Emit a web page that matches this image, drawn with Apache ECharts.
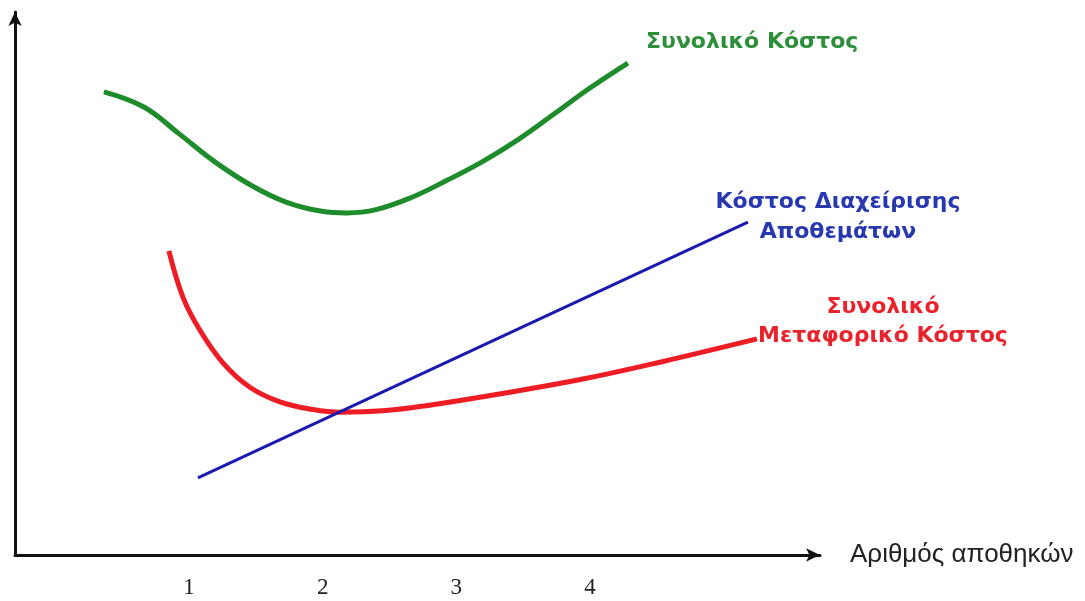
<!DOCTYPE html>
<html><head><meta charset="utf-8">
<script src="https://cdn.jsdelivr.net/npm/echarts@6/dist/echarts.min.js"></script>
<style>html,body{margin:0;padding:0;background:#fff}#c{width:1085px;height:601px}</style>
</head><body><div id="c"></div>
<script>
// x = number of warehouses, y = cost (arbitrary units)
const xTicks = [1, 2, 3, 4];
const totalCostX = [0.364,0.663,0.925,1.194,1.464,1.726,1.995,2.182,2.399,2.660,2.930,3.199,3.468,3.730,3.999,4.283];
const totalCostY = [85.3,82.5,77.6,72.4,68.1,65.0,63.3,63.0,63.6,65.8,69.0,72.5,76.6,81.2,86.0,90.6];
const transportX = [0.850,0.955,1.082,1.254,1.456,1.681,1.927,2.129,2.473,2.773,3.356,3.947,4.538,5.248];
const transportY = [56.0,47.5,41.4,35.4,30.9,28.2,26.8,26.3,26.6,27.5,29.8,32.4,35.6,39.8];
const inventoryX = [1.067, 5.181];
const inventoryY = [14.2, 61.3];
const xName = 'Αριθμός αποθηκών';
const labelTotal = 'Συνολικό Κόστος';
const labelInventory = ['Κόστος Διαχείρισης', 'Αποθεμάτων'];
const labelTransport = ['Συνολικό', 'Μεταφορικό Κόστος'];

const zip = (xs, ys) => xs.map((x, i) => [x, ys[i]]);
const chart = echarts.init(document.getElementById('c'));
const F = '"Liberation Sans", Arial, sans-serif';
const FB = '"DejaVu Sans", Verdana, sans-serif';
chart.setOption({
  animation: false,
  grid: { left: 15, right: 265, top: 12, bottom: 46 },
  xAxis: {
    type: 'value', min: -0.301, max: 5.72,
    axisLine: { onZero: false, lineStyle: { color: '#111', width: 3 }, symbol: ['none', 'arrow'], symbolSize: [10, 14] },
    axisTick: { show: false }, splitLine: { show: false },
    axisLabel: { customValues: xTicks, fontFamily: '"Liberation Serif", serif', fontSize: 23, color: '#222', margin: 21 },
    name: xName, nameLocation: 'end', nameGap: 30,
    nameTextStyle: { fontFamily: F, fontSize: 26, color: '#222', verticalAlign: 'middle' }
  },
  yAxis: {
    type: 'value', min: 0, max: 100,
    axisLine: { show: true, onZero: false, lineStyle: { color: '#111', width: 3 }, symbol: ['none', 'arrow'], symbolSize: [10, 14] },
    axisTick: { show: false }, splitLine: { show: false }, axisLabel: { show: false }
  },
  series: [
    { type: 'line', data: zip(totalCostX, totalCostY), smooth: 0.4, showSymbol: false,
      lineStyle: { color: '#1f8c2b', width: 5 } },
    { type: 'line', data: zip(transportX, transportY), smooth: 0.4, showSymbol: false,
      lineStyle: { color: '#ee1c25', width: 5 } },
    { type: 'line', data: zip(inventoryX, inventoryY), showSymbol: false,
      lineStyle: { color: '#1a1ab0', width: 3 } }
  ],
  graphic: [
    { type: 'text', left: 646, top: 31, style: { text: labelTotal, font: 'bold 22px ' + FB, fill: '#2e8f3a' } },
    { type: 'text', x: 838, y: 187, style: { text: labelInventory.join('\n'), font: 'bold 22px ' + FB, fill: '#2838ae', align: 'center', lineHeight: 30 } },
    { type: 'text', x: 883, y: 293, z: -1, style: { text: labelTransport.join('\n'), font: 'bold 22px ' + FB, fill: '#e8232c', align: 'center', lineHeight: 29 } }
  ]
});
</script></body></html>
